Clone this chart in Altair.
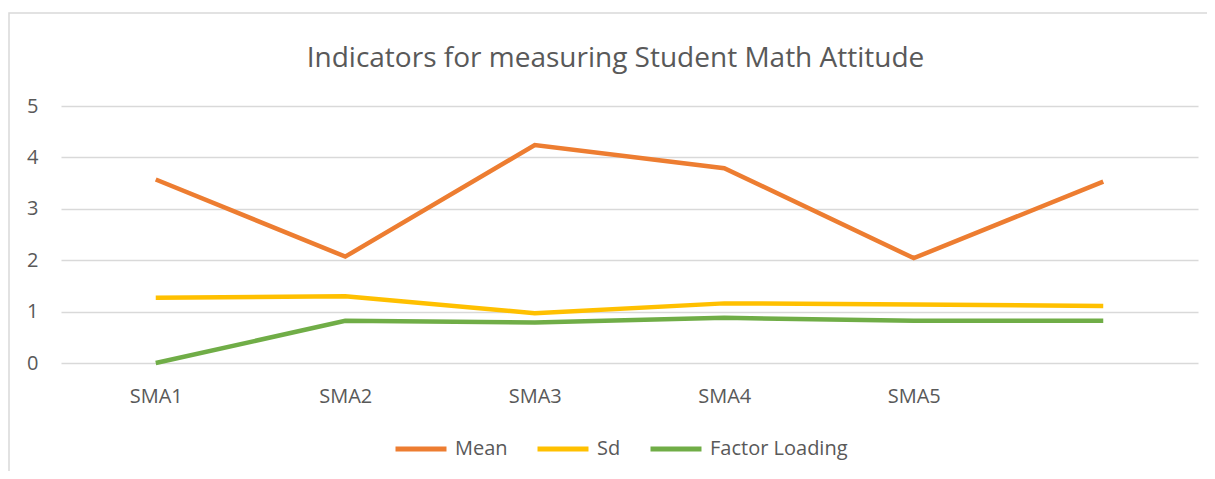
import altair as alt
import pandas as pd

categories = ["SMA1", "SMA2", "SMA3", "SMA4", "SMA5", ""]
mean_vals = [3.57, 2.07, 4.24, 3.79, 2.04, 3.53]
sd_vals = [1.27, 1.30, 0.97, 1.16, 1.14, 1.11]
fl_vals = [0.0, 0.82, 0.79, 0.88, 0.82, 0.82]
series_names = ["Mean", "Sd", "Factor Loading"]
series_colors = ["#ED7D31", "#FFC000", "#70AD47"]

rows = []
for name, vals in zip(series_names, [mean_vals, sd_vals, fl_vals]):
    for i, (c, v) in enumerate(zip(categories, vals)):
        rows.append({"cat": c, "order": i, "series": name, "value": v})
df = pd.DataFrame(rows)

FONT = "Open Sans"
TXT = "#595959"
GRID = "#D9D9D9"

lines = alt.Chart(df).mark_line(strokeWidth=4.5, strokeCap="butt", strokeJoin="miter").encode(
    x=alt.X("cat:N", sort=categories, scale=alt.Scale(type="point", padding=0.5),
            axis=alt.Axis(title=None, domain=False, ticks=False, grid=False,
                          labelAngle=0, labelFont=FONT, labelFontSize=20, labelColor=TXT,
                          labelPadding=23)),
    y=alt.Y("value:Q", scale=alt.Scale(domain=[0, 5], nice=False),
            axis=alt.Axis(title=None, domain=False, ticks=False, values=[0, 1, 2, 3, 4, 5],
                          gridColor=GRID, gridWidth=1.5, labelFont=FONT, labelFontSize=20,
                          labelColor=TXT, labelPadding=23)),
    color=alt.Color("series:N", sort=series_names,
                    scale=alt.Scale(domain=series_names, range=series_colors),
                    legend=alt.Legend(title=None, orient="none", direction="horizontal",
                                      legendX=332, legendY=315,
                                      symbolType="stroke", symbolStrokeWidth=5, symbolSize=2600,
                                      labelFont=FONT, labelFontSize=20, labelColor=TXT,
                                      columnPadding=19, labelOffset=6)),
    order="order:Q",
)

border = alt.Chart(pd.DataFrame({"k": [0]})).mark_rect(fill=None, stroke=GRID, strokeWidth=1.5).encode(
    x=alt.value(-52), x2=alt.value(1170), y=alt.value(-93), y2=alt.value(400)
)

chart = alt.layer(border, lines).properties(
    width=1137, height=257,
    title=alt.TitleParams("Indicators for measuring Student Math Attitude", font=FONT,
                          fontSize=28, fontWeight="normal", color=TXT, offset=-83,
                          baseline="alphabetic", dx=-14),
    autosize=alt.AutoSizeParams(type="none"),
    padding={"left": 53, "top": 98, "right": 9, "bottom": 108},
    background="white",
).configure_view(stroke="transparent", strokeWidth=0)

chart.save("out.html", embed_options={"renderer": "svg", "actions": False})
